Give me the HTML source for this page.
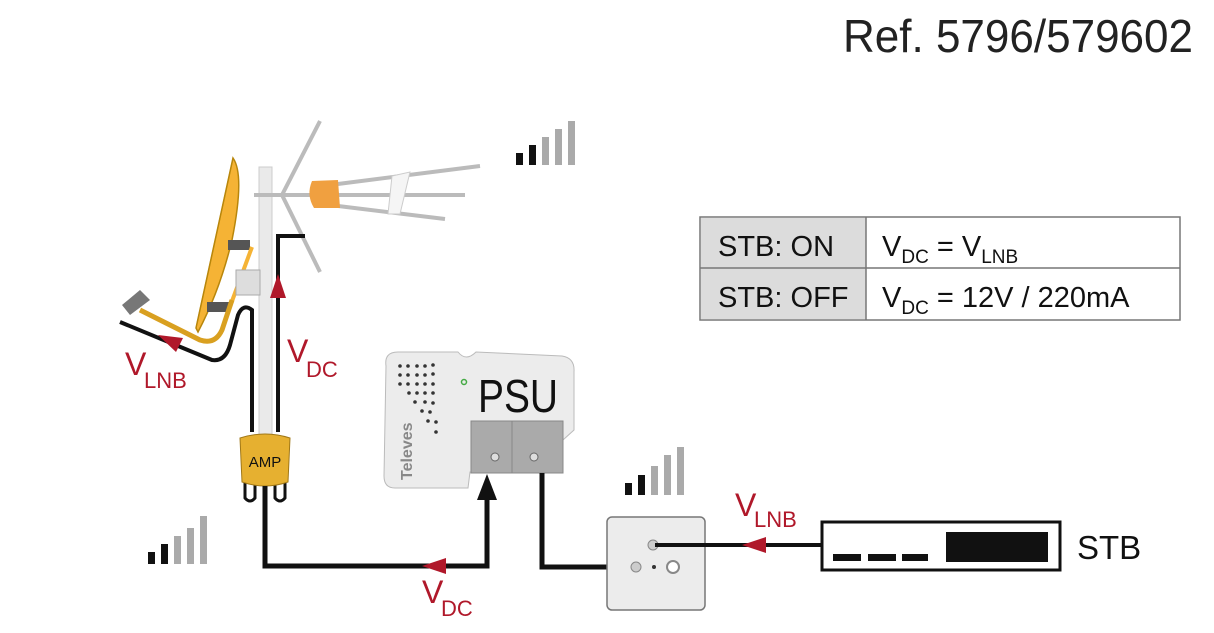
<!DOCTYPE html>
<html><head><meta charset="utf-8"><style>
html,body{margin:0;padding:0;background:#fff;}
svg{display:block;font-family:"Liberation Sans",sans-serif;}
</style></head><body>
<svg width="1214" height="633" viewBox="0 0 1214 633" xmlns="http://www.w3.org/2000/svg">
<text x="843" y="52" font-size="46" fill="#222" textLength="350" lengthAdjust="spacingAndGlyphs">Ref. 5796/579602</text>

<!-- signal bars -->
<g>
<rect x="516" y="153" width="7" height="12" fill="#111"/><rect x="529" y="145" width="7" height="20" fill="#111"/>
<rect x="542" y="137" width="7" height="28" fill="#aaa"/><rect x="555" y="129" width="7" height="36" fill="#aaa"/><rect x="568" y="121" width="7" height="44" fill="#aaa"/>
</g>
<g>
<rect x="148" y="552" width="7" height="12" fill="#111"/><rect x="161" y="544" width="7" height="20" fill="#111"/>
<rect x="174" y="536" width="7" height="28" fill="#aaa"/><rect x="187" y="528" width="7" height="36" fill="#aaa"/><rect x="200" y="516" width="7" height="48" fill="#aaa"/>
</g>
<g>
<rect x="625" y="483" width="7" height="12" fill="#111"/><rect x="638" y="475" width="7" height="20" fill="#111"/>
<rect x="651" y="466" width="7" height="29" fill="#aaa"/><rect x="664" y="455" width="7" height="40" fill="#aaa"/><rect x="677" y="447" width="7" height="48" fill="#aaa"/>
</g>

<!-- mast -->
<rect x="259" y="167" width="13" height="280" fill="#eaeaea" stroke="#ccc"/>
<!-- yagi antenna -->
<line x1="254" y1="195" x2="465" y2="195" stroke="#bbb" stroke-width="4"/>
<line x1="320" y1="121" x2="282" y2="195" stroke="#bbb" stroke-width="4"/>
<line x1="282" y1="195" x2="320" y2="272" stroke="#bbb" stroke-width="4"/>
<line x1="330" y1="185" x2="480" y2="166" stroke="#bbb" stroke-width="4"/>
<line x1="330" y1="205" x2="445" y2="219" stroke="#bbb" stroke-width="4"/>
<path d="M312 181 L338 180 L340 208 L314 208 Q306 195 312 181Z" fill="#f0a040"/>
<path d="M392 176 L410 172 L400 214 L388 214Z" fill="#f5f5f5" stroke="#ccc"/>
<!-- dish -->
<path d="M233 158 Q245 175 232 240 Q220 290 198 332 L196 328 Z" fill="#f5b335" stroke="#b8860b" stroke-width="1.5"/>
<path d="M233 158 L196 328" stroke="#b8860b" stroke-width="1"/>
<rect x="228" y="240" width="22" height="10" fill="#555"/><rect x="207" y="302" width="22" height="10" fill="#555"/>
<line x1="252" y1="247" x2="228" y2="312" stroke="#f5b335" stroke-width="4"/>
<rect x="236" y="270" width="24" height="25" fill="#ddd" stroke="#aaa"/>
<path d="M122 305 L140 290 L150 300 L130 315Z" fill="#777"/>
<path d="M140 310 L200 340 Q215 345 222 330 L232 300" fill="none" stroke="#d9a020" stroke-width="5"/>
<!-- cables near mast -->
<path d="M278 432 V236 H305" fill="none" stroke="#111" stroke-width="4"/>
<path d="M120 322 L212 360 Q225 362 230 345 L238 315 Q243 303 252 310 V432" fill="none" stroke="#111" stroke-width="4"/>
<polygon points="278,274 270,298 286,298" fill="#b0182a"/>
<polygon points="158,335 183,338 176,352" fill="#b0182a"/>
<text x="287" y="362" font-size="32" fill="#b0182a">V</text><text x="306" y="377" font-size="22" fill="#b0182a">DC</text>
<text x="125" y="375" font-size="32" fill="#b0182a">V</text><text x="144" y="388" font-size="22" fill="#b0182a">LNB</text>

<!-- AMP -->
<path d="M245 478 V498 Q250 504 255 498 V478 M275 478 V498 Q280 504 285 498 V478" fill="none" stroke="#111" stroke-width="3"/>
<path d="M240 438 Q265 430 290 438 L288 482 Q265 490 242 482 Z" fill="#e6b030" stroke="#a07818"/>
<text x="265" y="467" font-size="15" text-anchor="middle" fill="#111">AMP</text>

<!-- main cable to PSU -->
<path d="M265 486 V566 H487 V495" fill="none" stroke="#111" stroke-width="5"/>
<polygon points="487,474 477,500 497,500" fill="#111"/>
<polygon points="422,566 446,558 446,574" fill="#b0182a"/>
<text x="422" y="603" font-size="32" fill="#b0182a">V</text><text x="441" y="616" font-size="22" fill="#b0182a">DC</text>

<!-- PSU -->
<path d="M386 366 Q384 352 398 352 L458 352 Q466 362 476 352 L562 356 Q575 358 574 372 L574 430 L563 440 L563 470 L520 472 L470 472 L468 488 L395 488 Q384 488 384 476 Z" fill="#ececec" stroke="#bbb"/>
<rect x="471" y="421" width="92" height="52" fill="#aaa" stroke="#888"/>
<line x1="512" y1="421" x2="512" y2="473" stroke="#888"/>
<text x="478" y="412" font-size="46" fill="#111" textLength="80" lengthAdjust="spacingAndGlyphs">PSU</text>
<circle cx="464" cy="382" r="2.5" fill="none" stroke="#4a4" stroke-width="1.5"/>
<g fill="#333">
<circle cx="400" cy="366" r="1.8"/><circle cx="408" cy="366" r="1.8"/><circle cx="417" cy="366" r="1.8"/><circle cx="425" cy="366" r="1.8"/><circle cx="433" cy="365" r="1.8"/>
<circle cx="400" cy="375" r="1.8"/><circle cx="408" cy="375" r="1.8"/><circle cx="417" cy="375" r="1.8"/><circle cx="425" cy="375" r="1.8"/><circle cx="433" cy="374" r="1.8"/>
<circle cx="400" cy="384" r="1.8"/><circle cx="408" cy="384" r="1.8"/><circle cx="417" cy="384" r="1.8"/><circle cx="425" cy="384" r="1.8"/><circle cx="433" cy="384" r="1.8"/>
<circle cx="409" cy="393" r="1.8"/><circle cx="417" cy="393" r="1.8"/><circle cx="425" cy="393" r="1.8"/><circle cx="433" cy="393" r="1.8"/>
<circle cx="415" cy="402" r="1.8"/><circle cx="425" cy="402" r="1.8"/><circle cx="433" cy="403" r="1.8"/>
<circle cx="422" cy="411" r="1.8"/><circle cx="430" cy="412" r="1.8"/><circle cx="428" cy="421" r="1.8"/><circle cx="436" cy="422" r="1.8"/><circle cx="436" cy="432" r="1.8"/>
</g>
<text transform="translate(412,480) rotate(-90)" font-size="16" font-weight="bold" fill="#888">Televes</text>
<circle cx="495" cy="457" r="4" fill="#ddd" stroke="#666"/><circle cx="534" cy="457" r="4" fill="#ddd" stroke="#666"/>

<!-- PSU to socket -->
<path d="M542 473 V567 H608" fill="none" stroke="#111" stroke-width="5"/>
<!-- wall socket -->
<rect x="607" y="517" width="98" height="93" rx="5" fill="#ececec" stroke="#777" stroke-width="1.5"/>
<circle cx="653" cy="545" r="5" fill="#ccc" stroke="#888"/>
<circle cx="636" cy="567" r="5" fill="#ccc" stroke="#888"/><circle cx="673" cy="567" r="6" fill="#fff" stroke="#888" stroke-width="2"/>
<circle cx="654" cy="567" r="2" fill="#333"/>
<line x1="655" y1="545" x2="823" y2="545" stroke="#111" stroke-width="4"/>
<polygon points="742,545 766,537 766,553" fill="#b0182a"/>
<text x="735" y="516" font-size="32" fill="#b0182a">V</text><text x="754" y="527" font-size="22" fill="#b0182a">LNB</text>

<!-- STB -->
<rect x="822" y="522" width="238" height="48" fill="#fff" stroke="#111" stroke-width="3"/>
<rect x="946" y="532" width="102" height="30" fill="#111"/>
<rect x="833" y="554" width="28" height="7" fill="#111"/><rect x="868" y="554" width="28" height="7" fill="#111"/><rect x="902" y="554" width="26" height="7" fill="#111"/>
<text x="1077" y="559" font-size="33" fill="#111">STB</text>

<!-- table -->
<rect x="700" y="217" width="480" height="103" fill="#fff" stroke="#777" stroke-width="1.5"/>
<rect x="701" y="218" width="165" height="101" fill="#dcdcdc"/>
<line x1="866" y1="217" x2="866" y2="320" stroke="#777" stroke-width="1.5"/>
<line x1="700" y1="268" x2="1180" y2="268" stroke="#777" stroke-width="1.5"/>
<text x="718" y="256" font-size="29" fill="#111">STB: ON</text>
<text x="718" y="307" font-size="29" fill="#111">STB: OFF</text>
<text x="882" y="256" font-size="29" fill="#111">V<tspan font-size="19" dy="7">DC</tspan><tspan dy="-7"> = V</tspan><tspan font-size="19" dy="7">LNB</tspan></text>
<text x="882" y="307" font-size="29" fill="#111">V<tspan font-size="19" dy="7">DC</tspan><tspan dy="-7"> = 12V / 220mA</tspan></text>
</svg>
</body></html>
